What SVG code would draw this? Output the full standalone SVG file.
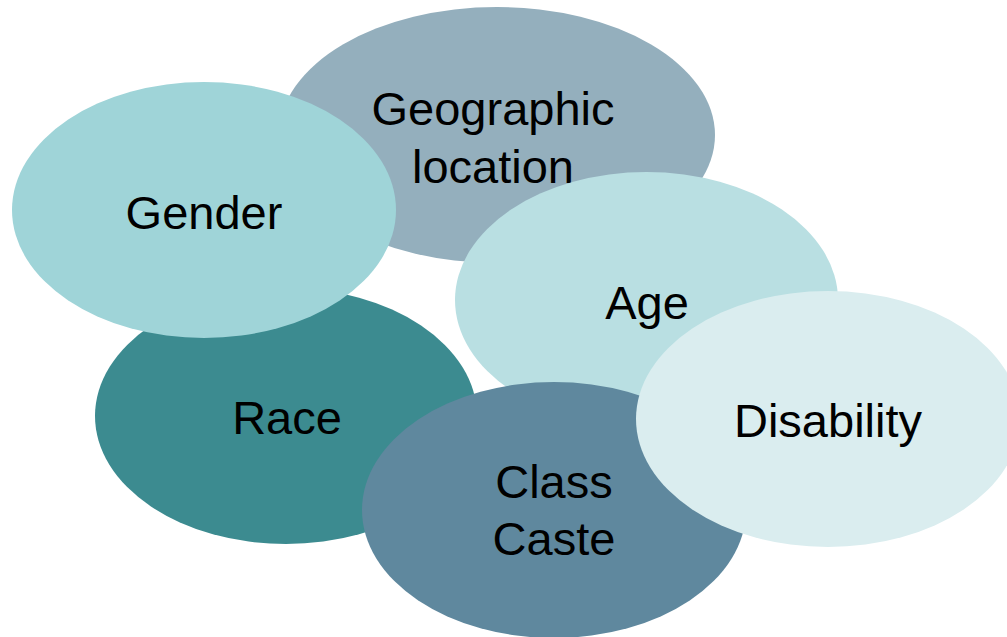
<svg xmlns="http://www.w3.org/2000/svg" width="1007" height="637" viewBox="0 0 1007 637">
<style>
text{font-family:"Liberation Sans",Arial,sans-serif;font-size:47px;fill:#000;text-anchor:middle}
</style>
<rect width="1007" height="637" fill="#fff"/>
<g id="geographic"><ellipse cx="497" cy="135" rx="218" ry="128" fill="#94AFBD"/><text x="493" y="125">Geographic</text><text x="493" y="183">location</text></g>
<g id="race"><ellipse cx="286" cy="416" rx="191" ry="128" fill="#3C8B90"/><text x="287" y="434">Race</text></g>
<g id="gender"><ellipse cx="204" cy="210" rx="192" ry="128" fill="#9FD4D8"/><text x="204" y="229">Gender</text></g>
<g id="age"><ellipse cx="646.5" cy="300" rx="191.5" ry="128" fill="#B9DFE2"/><text x="647" y="319">Age</text></g>
<g id="class"><ellipse cx="554" cy="510" rx="192" ry="128" fill="#5F889E"/><text x="554" y="498">Class</text><text x="554" y="555">Caste</text></g>
<g id="disability"><ellipse cx="828" cy="419" rx="192" ry="128" fill="#DAEDEF"/><text x="828" y="437">Disability</text></g>
<g id="connectors"/>
</svg>
